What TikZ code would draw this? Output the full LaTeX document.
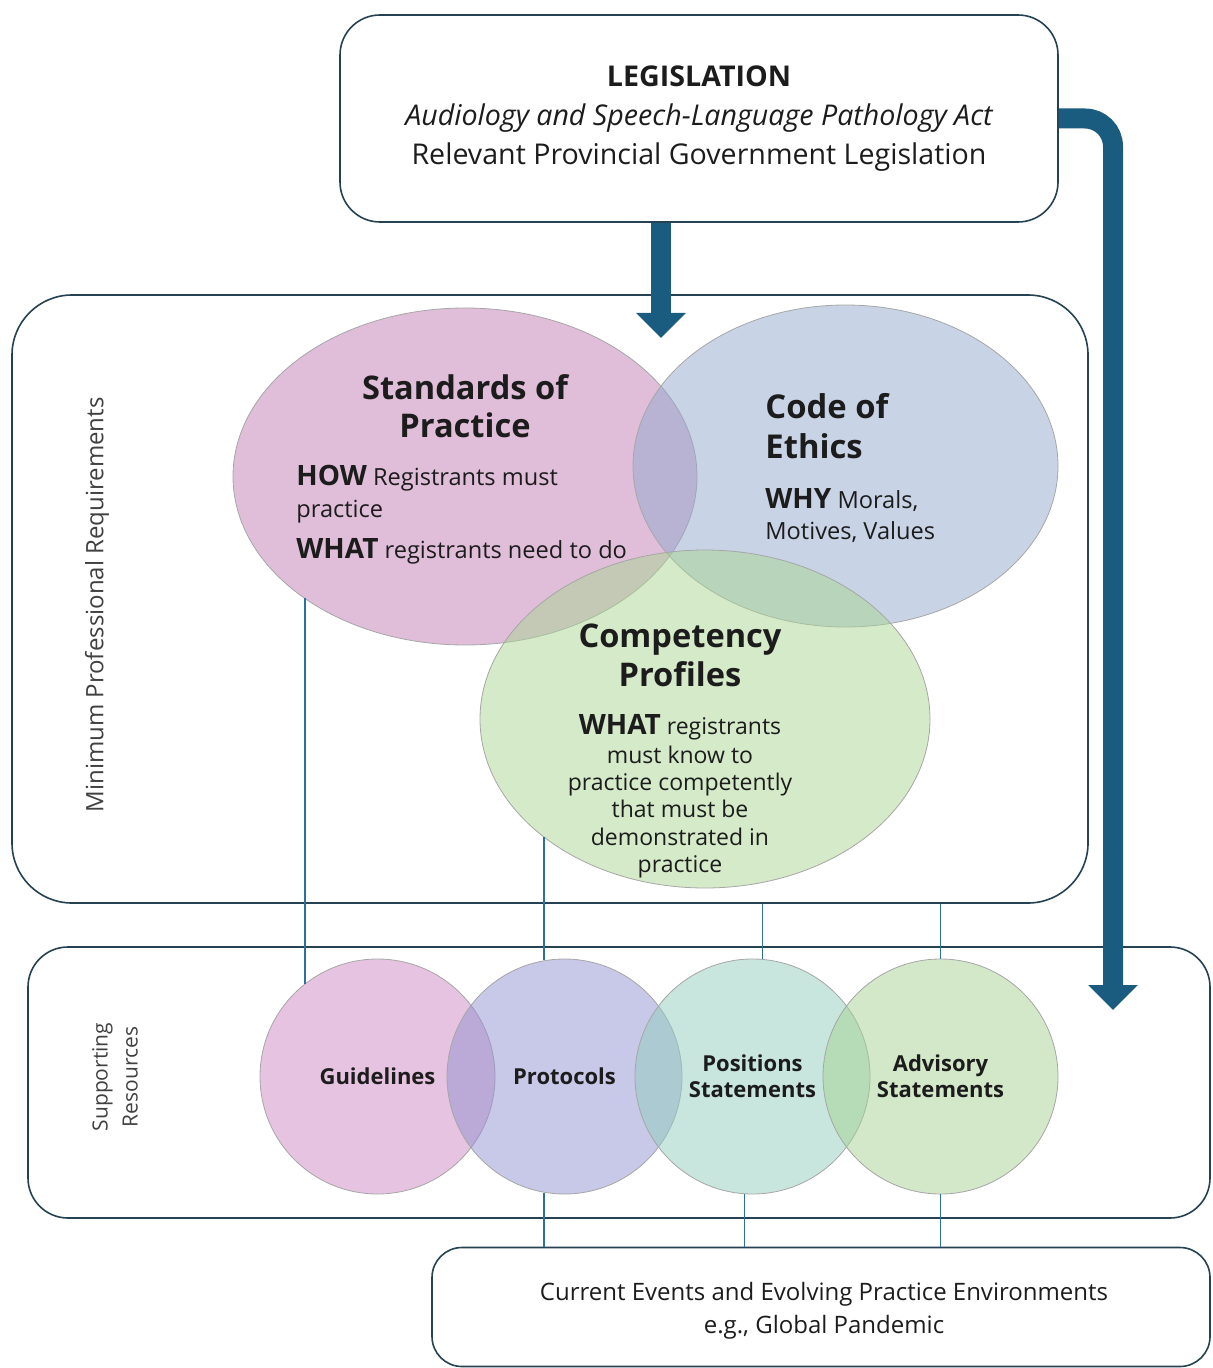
\documentclass[tikz,border=0pt]{standalone}
\usepackage{fontspec}
\setmainfont{Open Sans}
\usetikzlibrary{arrows.meta,shapes.geometric}

\definecolor{legblue}{RGB}{26,92,127}
\definecolor{linkblue}{RGB}{44,112,160}
\definecolor{framecol}{RGB}{36,66,82}
\definecolor{ink}{RGB}{28,28,28}
\definecolor{sopfill}{RGB}{193,125,181}
\definecolor{coefill}{RGB}{145,169,205}
\definecolor{compfill}{RGB}{169,213,145}
\definecolor{guidefill}{RGB}{205,135,193}
\definecolor{protofill}{RGB}{145,145,209}
\definecolor{posfill}{RGB}{145,205,189}
\definecolor{advfill}{RGB}{165,209,145}

\newcommand{\keyterm}[1]{{\fontsize{14}{16}\selectfont\bfseries #1}}

\tikzset{
  framebox/.style={draw=framecol, line width=0.8pt, rounded corners=#1, inner sep=0pt},
  venn/.style={ellipse, draw=gray!70, line width=0.4pt, fill=#1, fill opacity=0.5,
               text opacity=1, inner sep=0pt},
  link/.style={draw=linkblue, line width=0.7pt},
  govarrow/.style={draw=legblue, line width=10pt,
                   -{Triangle[length=12.5pt 0 0, width=24pt 0 0]}},
  vtitle/.style={font=\fontsize{16.3}{19}\selectfont\bfseries, inner sep=0pt},
  vbody/.style={font=\fontsize{11.8}{16}\selectfont, inner sep=0pt},
}

\begin{document}
\begin{tikzpicture}[x=0.5pt, y=-0.5pt, text=ink]
    \useasboundingbox (0,0) rectangle (1213,1368);

    % --- the three frames ---
    \node[framebox=20pt, minimum width=359pt, minimum height=103.5pt, align=center,
          font=\fontsize{14.3}{19.5}\selectfont] (leg) at (699,118.5)
      {{\bfseries LEGISLATION}\\
       {\itshape Audiology and Speech-Language Pathology Act}\\
       Relevant Provincial Government Legislation};
    \node[framebox=30pt, minimum width=538pt, minimum height=304pt] (mpr) at (550,599) {};
    \node[framebox=20pt, minimum width=591pt, minimum height=135.5pt] (sup) at (619,1082.5) {};
    \node[framebox=15pt, minimum width=389pt, minimum height=59.5pt] (cur) at (821,1307) {};
    \node[align=center, font=\fontsize{12}{16.5}\selectfont] (curtext) at (824,1311)
      {Current Events and Evolving Practice Environments\\e.g., Global Pandemic};

    % side labels
    \node[rotate=90, font=\fontsize{12}{14}\selectfont, text=black!75] (mprlab) at (97,605)
      {Minimum Professional Requirements};
    \node[rotate=90, align=center, font=\fontsize{10.5}{15}\selectfont, text=black!75] (suplab)
      at (115,1077) {Supporting\\Resources};

    % --- the three requirement ellipses ---
    \node[venn=sopfill, minimum width=232pt, minimum height=168.5pt] (sop) at (465,476.5) {};
    \node[venn=coefill, minimum width=212.5pt, minimum height=161pt] (coe) at (845.5,466) {};
    \node[venn=compfill, minimum width=225pt, minimum height=169pt] (comp) at (705,719) {};

    \node[vtitle, align=center] (soptitle) at (465,406) {Standards of\\Practice};
    \node[vbody, align=left, anchor=west] (sopbody) at (296,515)
      {\keyterm{HOW} Registrants must\\practice\\[4.5pt]\keyterm{WHAT} registrants need to do};

    \node[vtitle, align=left, anchor=west, font=\fontsize{16.4}{20}\selectfont\bfseries]
      (coetitle) at (765,426) {Code of\\Ethics};
    \node[vbody, align=left, anchor=west, font=\fontsize{11.8}{15.5}\selectfont]
      (coebody) at (765,516) {\keyterm{WHY} Morals,\\Motives, Values};

    \node[vtitle, align=center, font=\fontsize{16.3}{19.5}\selectfont\bfseries]
      (comptitle) at (680,655.5) {Competency\\Profiles};
    \node[vbody, align=center, font=\fontsize{11.5}{13.6}\selectfont] (compbody) at (680,796)
      {\keyterm{WHAT} registrants\\[1pt]must know to\\practice competently\\that must be\\
       demonstrated in\\practice};

    % --- supporting resources, one row of circles ---
    \foreach \nm/\x/\col/\txt in {gl/377.5/guidefill/{Guidelines},
        prot/564.5/protofill/{Protocols},
        pos/752.5/posfill/{Positions\\Statements},
        adv/940.5/advfill/{Advisory\\Statements}}
      \node[venn=\col, circle, minimum size=117.5pt, align=center,
            font=\fontsize{11}{13}\selectfont\bfseries] (\nm) at (\x,1076.5) {\txt};

    % --- thin links between the layers ---
    \draw[link] (gl.128) -- (gl.128 |- sop.217);
    \draw[link] (prot.100) -- (prot.100 |- comp.216);
    \draw[link] (pos.85) -- (pos.85 |- mpr.south);
    \draw[link] (adv.north) -- (adv.north |- mpr.south);
    \draw[link] (prot.260) -- (prot.260 |- cur.north);
    \draw[link] (pos.266) -- (pos.266 |- cur.north);
    \draw[link] (adv.south) -- (adv.south |- cur.north);

    % --- legislation feeds both layers ---
    \coordinate (govdown) at (661,338);
    \coordinate (govside) at (1113,1010);
    \draw[govarrow] (leg.south -| govdown) -- (govdown);
    \draw[govarrow, rounded corners=14pt] (leg.east) -| (govside);
\end{tikzpicture}
\end{document}
